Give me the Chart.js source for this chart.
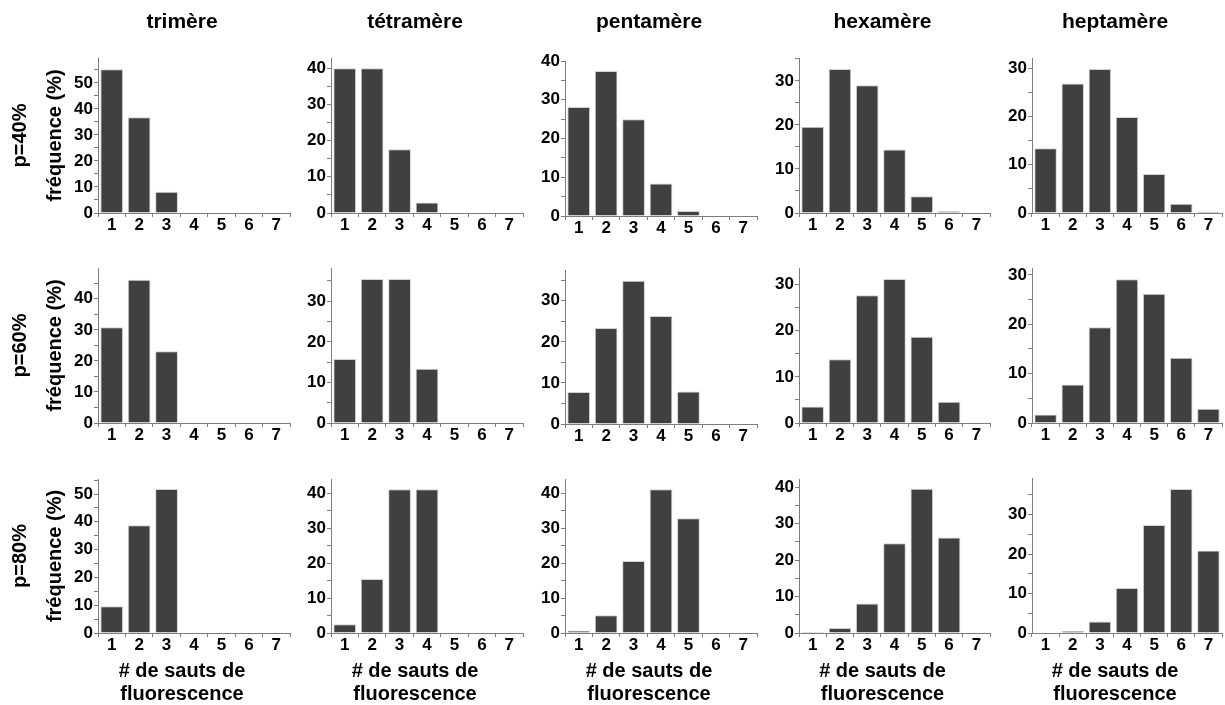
<!DOCTYPE html>
<html>
<head>
<meta charset="utf-8">
<script src="https://cdn.jsdelivr.net/npm/chart.js@4/dist/chart.umd.min.js"></script>
<style>
  html, body { margin: 0; padding: 0; background: #fff; }
  body { width: 1225px; height: 705px; position: relative; overflow: hidden; }
  canvas { position: absolute; }
</style>
</head>
<body>
<script>
// Number of fluorescence jumps (x categories)
const categories = ['1', '2', '3', '4', '5', '6', '7'];
const oligomers = ['trimère', 'tétramère', 'pentamère', 'hexamère', 'heptamère'];
const probabilities = ['p=40%', 'p=60%', 'p=80%'];
const xTitle = ['# de sauts de', 'fluorescence'];
const yTitle = 'fréquence (%)';

// Frequencies (%) for p = 40 %
const trimer40     = [55.3, 36.8, 8.2, 0, 0, 0, 0];
const tetramer40   = [40.0, 40.0, 17.6, 2.9, 0, 0, 0];
const pentamer40   = [28.1, 37.4, 25.0, 8.4, 1.3, 0, 0];
const hexamer40    = [19.6, 32.7, 29.0, 14.4, 3.8, 0.4, 0];
const heptamer40   = [13.4, 26.8, 29.8, 19.9, 8.1, 1.9, 0.3];

// Frequencies (%) for p = 60 %
const trimer60     = [30.8, 46.1, 23.1, 0, 0, 0, 0];
const tetramer60   = [15.8, 35.5, 35.5, 13.4, 0, 0, 0];
const pentamer60   = [7.8, 23.4, 34.9, 26.3, 7.9, 0, 0];
const hexamer60    = [3.6, 13.8, 27.7, 31.2, 18.7, 4.6, 0];
const heptamer60   = [1.7, 7.8, 19.4, 29.1, 26.2, 13.2, 2.9];

// Frequencies (%) for p = 80 %
const trimer80     = [9.6, 38.8, 51.8, 0, 0, 0, 0];
const tetramer80   = [2.5, 15.4, 41.1, 41.1, 0, 0, 0];
const pentamer80   = [0.7, 5.1, 20.6, 41.1, 32.8, 0, 0];
const hexamer80    = [0.3, 1.4, 8.1, 24.6, 39.5, 26.2, 0];
const heptamer80   = [0.1, 0.5, 2.9, 11.4, 27.4, 36.5, 20.9];

// Upper end of each y axis (%)
const yMax40 = [59.6, 42.8, 40, 35.2, 32.1];
const yMax60 = [49.9, 38.2, 37.5, 33.6, 31.4];
const yMax80 = [55.4, 44.0, 44.0, 42.2, 39.3];

const seriesGrid = [
  [trimer40, tetramer40, pentamer40, hexamer40, heptamer40],
  [trimer60, tetramer60, pentamer60, hexamer60, heptamer60],
  [trimer80, tetramer80, pentamer80, hexamer80, heptamer80]
];
const yMaxGrid = [yMax40, yMax60, yMax80];

// Panel placement on the page (pixels)
const colAxisX = [98, 331, 565, 799, 1032];
const colPlotW = [192, 192, 192, 191, 190];
const rowTop    = [[58, 58, 61, 58, 58], [268, 268, 270, 268, 268], [479, 479, 479, 479, 478]];
const rowBottom = [[213, 213, 216, 213, 213], [423, 423, 424, 423, 423], [633, 633, 633, 633, 633]];

const FONT = "'Liberation Sans', Arial, Helvetica, sans-serif";
const AXIS_GREY = '#7d7d7d';
Chart.defaults.font.family = FONT;
Chart.defaults.color = '#000';

function makePanel(r, c) {
  const axisX = colAxisX[c], plotW = colPlotW[c];
  const top = rowTop[r][c], bottom = rowBottom[r][c];
  const yW = 24;                       // y scale box width
  const padL = c === 0 ? axisX - yW : 6;
  const padR = 8;
  const isTop = r === 0, isBottom = r === 2;
  const xH = isBottom ? 26 : 30;       // x scale box height
  const padT = isTop ? 0 : 14;
  const canvasTop = isTop ? 0 : top - padT;
  const canvasBottom = isBottom ? bottom + xH + 47 : bottom + xH;
  const left = axisX - yW - padL;
  const width = padL + yW + plotW + padR;
  const height = canvasBottom - canvasTop;

  const cv = document.createElement('canvas');
  cv.width = width; cv.height = height;
  cv.style.left = left + 'px';
  cv.style.top = canvasTop + 'px';
  cv.style.width = width + 'px';
  cv.style.height = height + 'px';
  document.body.appendChild(cv);

  const titleLine = 21 * 1.2;
  new Chart(cv, {
    type: 'bar',
    data: {
      labels: categories,
      datasets: [{
        data: seriesGrid[r][c],
        backgroundColor: '#404040',
        borderColor: '#d2d2d2',
        borderWidth: 1,
        barPercentage: 0.83,
        categoryPercentage: 1.0
      }]
    },
    options: {
      responsive: false,
      animation: false,
      devicePixelRatio: 1,
      layout: { padding: { left: padL, right: padR, top: padT, bottom: 0 } },
      plugins: {
        legend: { display: false },
        tooltip: { enabled: false },
        title: {
          display: isTop,
          text: oligomers[c],
          color: '#000',
          font: { size: 21, weight: 'bold', lineHeight: 1.2 },
          padding: { top: 10, bottom: top - 10 - titleLine }
        },
        subtitle: {
          display: isBottom,
          position: 'bottom',
          text: xTitle,
          color: '#000',
          font: { size: 20, weight: 'bold', lineHeight: 1.15 },
          padding: { top: 1, bottom: 0 }
        }
      },
      scales: {
        x: {
          type: 'category',
          offset: true,
          grid: {
            offset: true,
            display: true,
            drawOnChartArea: false,
            drawTicks: true,
            tickLength: 4,
            color: AXIS_GREY
          },
          border: { display: true, color: AXIS_GREY, width: 1 },
          ticks: {
            padding: 0,
            color: '#000',
            maxRotation: 0,
            autoSkip: false,
            font: { size: 17, weight: 'bold', lineHeight: 1 }
          },
          afterFit: s => { s.height = xH; }
        },
        y: {
          min: 0,
          max: yMaxGrid[r][c],
          grid: {
            display: true,
            drawOnChartArea: false,
            drawTicks: true,
            tickLength: 4,
            color: AXIS_GREY
          },
          border: { display: true, color: AXIS_GREY, width: 1 },
          ticks: {
            padding: 1,
            color: '#000',
            autoSkip: false,
            font: { size: 17, weight: 'bold' },
            callback: v => (Math.abs(v % 10) < 1e-9 ? String(v) : '')
          },
          afterBuildTicks: s => {
            const t = [];
            for (let v = 0; v <= s.max + 1e-9; v += 5) t.push({ value: v });
            s.ticks = t;
          },
          title: {
            display: c === 0,
            text: [probabilities[r], yTitle],
            color: '#000',
            font: { size: 20, weight: 'bold', lineHeight: 35 / 20 },
            padding: { top: 2.5 - padL, bottom: 0 }
          },
          afterFit: s => { s.width = yW; }
        }
      }
    }
  });
}

for (let r = 0; r < 3; r++) {
  for (let c = 0; c < 5; c++) makePanel(r, c);
}
</script>
</body>
</html>
